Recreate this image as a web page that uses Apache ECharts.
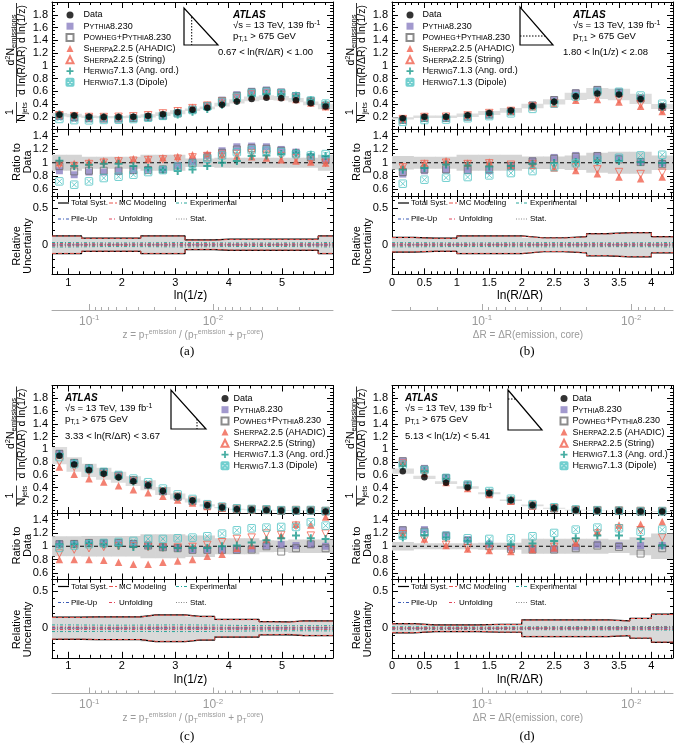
<!DOCTYPE html>
<html><head><meta charset="utf-8">
<script src="https://cdn.jsdelivr.net/npm/echarts@6/dist/echarts.min.js"></script>
<style>html,body{margin:0;padding:0;background:#fff}#c{width:680px;height:749px}</style>
</head><body><div id="c"></div>
<script>
const FONT = '"Liberation Sans", Arial, Helvetica, sans-serif';
const SERIF = '"Liberation Serif", "Times New Roman", serif';

// ---------- binning / ticks ----------
const lnzEdges = [0.693,0.970,1.247,1.523,1.800,2.077,2.354,2.630,2.907,3.184,3.461,3.737,4.014,4.291,4.568,4.844,5.121,5.398,5.675,5.952];
const lnrEdges = [0,0.333,0.667,1.0,1.333,1.667,2.0,2.333,2.667,3.0,3.333,3.667,4.0,4.333];
const lnzMajor = [1,2,3,4,5];
const lnrMajor = [0,0.5,1,1.5,2,2.5,3,3.5,4];
const mainYLabels = [0.2,0.4,0.6,0.8,1,1.2,1.4,1.6,1.8];
const ratioYLabels = [0.6,0.8,1,1.2,1.4];
const uncYLabels = [0,0.5];
const secMajor = [1,2];
const secTickLabels = ['10{s|-1}','10{s|-2}'];

// ---------- panel (a): 0.67 < ln(R/dR) < 1.00, vs ln(1/z) ----------
const aData    = [0.23,0.22,0.20,0.195,0.195,0.20,0.215,0.24,0.27,0.31,0.34,0.39,0.44,0.48,0.50,0.49,0.46,0.41,0.36];
const aPythia  = [0.88,0.82,0.86,0.86,0.87,0.88,0.90,0.90,0.96,1.02,1.11,1.18,1.24,1.25,1.24,1.20,1.16,1.09,1.05];
const aPowheg  = [0.95,0.87,0.88,0.88,0.88,0.89,0.89,0.90,0.94,1.00,1.08,1.15,1.20,1.22,1.21,1.18,1.14,1.08,1.04];
const aSherpaA = [1.00,0.99,1.01,1.03,1.045,1.06,1.06,1.075,1.095,1.12,1.135,1.12,1.10,1.09,1.07,1.045,1.025,1.01,0.995];
const aSherpaS = [0.97,0.95,0.98,1.00,1.02,1.03,1.04,1.05,1.06,1.08,1.10,1.12,1.13,1.14,1.12,1.10,1.07,1.03,1.00];
const aHerwigA = [1.03,0.95,0.97,0.985,0.985,0.95,0.92,0.895,0.875,0.90,0.95,1.00,1.025,1.10,1.11,1.13,1.15,1.12,1.10];
const aHerwigD = [0.72,0.67,0.72,0.77,0.79,0.82,0.86,0.89,0.94,0.985,1.06,1.11,1.16,1.19,1.18,1.16,1.13,1.11,1.13];
const aTotal   = [0.12,0.12,0.09,0.09,0.09,0.09,0.12,0.12,0.12,0.065,0.065,0.075,0.075,0.075,0.075,0.075,0.075,0.075,0.12];
const aMCmod   = [0.117,0.117,0.087,0.087,0.087,0.087,0.117,0.117,0.117,0.062,0.062,0.072,0.072,0.072,0.072,0.072,0.072,0.072,0.117];
const aExp     = [0.030,0.028,0.026,0.025,0.025,0.026,0.027,0.028,0.030,0.028,0.026,0.025,0.024,0.024,0.024,0.025,0.026,0.028,0.030];
const aPU      = [0.008,0.007,0.006,0.006,0.006,0.006,0.007,0.007,0.008,0.008,0.007,0.006,0.006,0.006,0.006,0.006,0.007,0.007,0.008];
const aUnf     = [0.015,0.013,0.012,0.011,0.011,0.012,0.013,0.014,0.015,0.014,0.013,0.012,0.011,0.011,0.011,0.012,0.013,0.014,0.016];
const aStat    = [0.005,0.004,0.004,0.004,0.004,0.004,0.004,0.004,0.004,0.004,0.004,0.004,0.004,0.004,0.004,0.004,0.005,0.005,0.006];

// ---------- panel (b): 1.80 < ln(1/z) < 2.08, vs ln(R/dR) ----------
const bData    = [0.175,0.20,0.20,0.225,0.26,0.30,0.37,0.435,0.52,0.565,0.55,0.48,0.36];
const bPythia  = [0.83,0.88,0.89,0.88,0.88,0.94,1.03,1.08,1.11,1.11,1.07,1.02,0.995];
const bPowheg  = [0.86,0.90,0.90,0.89,0.90,0.95,1.02,1.06,1.09,1.10,1.05,1.01,0.98];
const bSherpaA = [0.95,0.995,1.03,0.995,1.01,0.96,0.96,0.92,0.885,0.835,0.785,0.76,0.785];
const bSherpaS = [0.93,0.98,1.00,0.98,0.99,0.97,0.98,0.95,0.93,0.90,0.86,0.83,0.85];
const bHerwigA = [0.895,0.92,0.975,0.96,0.945,0.95,0.985,0.995,1.01,1.025,1.025,1.01,0.995];
const bHerwigD = [0.685,0.745,0.775,0.785,0.81,0.845,0.875,0.935,0.995,1.045,1.075,1.11,1.12];
const bTotal   = [0.10,0.09,0.09,0.12,0.12,0.12,0.095,0.095,0.11,0.15,0.165,0.165,0.11];
const bMCmod   = [0.097,0.087,0.087,0.117,0.117,0.117,0.092,0.092,0.107,0.147,0.162,0.162,0.107];
const bExp     = [0.028,0.026,0.025,0.025,0.026,0.027,0.028,0.028,0.027,0.026,0.026,0.027,0.030];
const bPU      = [0.007,0.007,0.006,0.006,0.006,0.007,0.007,0.007,0.007,0.007,0.007,0.008,0.008];
const bUnf     = [0.013,0.012,0.012,0.011,0.012,0.012,0.013,0.013,0.014,0.014,0.013,0.013,0.015];
const bStat    = [0.004,0.004,0.004,0.004,0.004,0.004,0.004,0.004,0.004,0.004,0.004,0.005,0.006];

// ---------- panel (c): 3.33 < ln(R/dR) < 3.67, vs ln(1/z) ----------
const cData    = [0.90,0.76,0.67,0.615,0.56,0.50,0.435,0.345,0.26,0.195,0.12,0.085,0.06,0.05,0.045,0.035,0.035,0.035,0.025];
const cPythia  = [1.04,1.04,1.05,1.05,1.05,1.04,1.015,0.99,0.975,0.95,0.95,0.95,0.95,0.96,1.01,1.025,1.01,1.025,1.00];
const cPowheg  = [1.03,1.035,1.05,1.045,1.05,1.035,1.01,0.985,0.97,0.945,0.945,0.945,0.945,0.95,1.00,0.92,0.97,1.03,0.97];
const cSherpaA = [0.80,0.80,0.80,0.79,0.76,0.73,0.73,0.76,0.78,0.80,0.85,0.88,0.97,1.01,1.11,1.16,1.33,1.32,1.44];
const cSherpaS = [0.89,0.95,0.97,0.99,1.00,1.00,0.99,0.98,0.98,0.99,1.02,1.06,1.11,1.13,1.19,1.17,1.31,1.16,1.19];
const cHerwigA = [1.03,1.03,1.045,1.03,1.01,0.99,1.00,0.985,0.975,0.975,0.975,1.00,1.01,1.055,1.09,1.12,1.16,1.12,1.11];
const cHerwigD = [0.975,1.01,1.03,1.05,1.065,1.08,1.11,1.11,1.12,1.13,1.15,1.19,1.24,1.27,1.28,1.29,1.29,1.36,1.31];
const cTotal   = [0.15,0.15,0.155,0.155,0.155,0.155,0.18,0.18,0.18,0.16,0.16,0.12,0.12,0.12,0.09,0.085,0.10,0.10,0.10];
const cMCmod   = [0.147,0.147,0.152,0.152,0.152,0.152,0.177,0.177,0.177,0.157,0.157,0.117,0.117,0.117,0.087,0.082,0.097,0.097,0.097];
const cExp     = [0.045,0.044,0.043,0.042,0.042,0.043,0.044,0.045,0.045,0.044,0.043,0.040,0.038,0.036,0.035,0.034,0.034,0.035,0.036];
const cPU      = [0.010,0.009,0.009,0.008,0.008,0.008,0.009,0.009,0.009,0.009,0.008,0.008,0.008,0.008,0.008,0.008,0.008,0.009,0.009];
const cUnf     = [0.018,0.017,0.016,0.016,0.016,0.017,0.018,0.018,0.018,0.017,0.016,0.015,0.015,0.015,0.014,0.014,0.015,0.015,0.016];
const cStat    = [0.005,0.005,0.005,0.005,0.005,0.005,0.005,0.005,0.006,0.006,0.006,0.007,0.007,0.008,0.008,0.009,0.010,0.010,0.012];

// ---------- panel (d): 5.13 < ln(1/z) < 5.41, vs ln(R/dR) ----------
const dData    = [0.655,0.56,0.475,0.40,0.31,0.20,0.12,0.075,0.045,0.035,0.03,0.025,0.025];
const dPythia  = [1.25,1.25,1.17,1.10,1.03,0.975,0.96,0.96,0.99,1.03,1.01,1.01,1.01];
const dPowheg  = [1.24,1.22,1.15,1.08,1.00,0.96,0.95,0.95,0.97,1.01,0.99,0.89,0.97];
const dSherpaA = [1.19,1.11,1.01,0.96,0.935,0.92,0.95,0.975,1.05,1.22,1.32,1.33,1.37];
const dSherpaS = [1.18,1.10,1.02,0.97,0.95,0.94,0.96,0.99,1.06,1.19,1.27,1.24,1.13];
const dHerwigA = [1.13,1.17,1.13,1.08,1.04,1.03,1.04,1.08,1.12,1.16,1.16,1.11,1.01];
const dHerwigD = [1.16,1.20,1.16,1.12,1.11,1.12,1.15,1.20,1.25,1.28,1.27,1.22,1.25];
const dTotal   = [0.063,0.045,0.045,0.045,0.054,0.054,0.113,0.113,0.113,0.113,0.10,0.135,0.19];
const dMCmod   = [0.060,0.042,0.042,0.042,0.051,0.051,0.110,0.110,0.110,0.110,0.097,0.132,0.187];
const dExp     = [0.020,0.018,0.017,0.017,0.018,0.019,0.020,0.021,0.022,0.022,0.022,0.023,0.025];
const dPU      = [0.006,0.005,0.005,0.005,0.005,0.006,0.006,0.006,0.006,0.007,0.007,0.007,0.008];
const dUnf     = [0.010,0.009,0.009,0.009,0.010,0.010,0.012,0.012,0.012,0.013,0.013,0.014,0.016];
const dStat    = [0.004,0.004,0.004,0.004,0.004,0.005,0.005,0.006,0.007,0.008,0.009,0.010,0.012];

// ---------- styles ----------
const modelNames = ['Pythia8.230','Powheg+Pythia8.230','Sherpa2.2.5 (AHADIC)','Sherpa2.2.5 (String)','Herwig7.1.3 (Ang. ord.)','Herwig7.1.3 (Dipole)'];
const modelStyles = [
  {symbol:'rect', size:7, item:{color:'#8b7fc2'}},
  {symbol:'rect', size:7, item:{color:'rgba(255,255,255,0)', borderColor:'#6e6e6e', borderWidth:1}},
  {symbol:'triangle', size:7.5, item:{color:'#f0624f'}},
  {symbol:'triangle', size:7.5, rotate:180, item:{color:'rgba(255,255,255,0)', borderColor:'#f0624f', borderWidth:1}},
  {symbol:'path://M3,0H5V3H8V5H5V8H3V5H0V3H3Z', size:8, item:{color:'#18998b'}},
  {symbol:'path://M1,0H9Q10,0 10,1V9Q10,10 9,10H1Q0,10 0,9V1Q0,0 1,0Z M1.5,1.5L8.5,8.5 M8.5,1.5L1.5,8.5', size:7.5, item:{color:'rgba(255,255,255,0)', borderColor:'#4fc3c3', borderWidth:1}}
];
const dataStyle = {symbol:'circle', size:6.5, item:{color:'#000'}};
const legendFmt = {
  'Data':'{n|Data}',
  'Pythia8.230':'{n|P}{s|YTHIA}{n|8.230}',
  'Powheg+Pythia8.230':'{n|P}{s|OWHEG}{n|+P}{s|YTHIA}{n|8.230}',
  'Sherpa2.2.5 (AHADIC)':'{n|S}{s|HERPA}{n|2.2.5 (AHADIC)}',
  'Sherpa2.2.5 (String)':'{n|S}{s|HERPA}{n|2.2.5 (String)}',
  'Herwig7.1.3 (Ang. ord.)':'{n|H}{s|ERWIG}{n|7.1.3 (Ang. ord.)}',
  'Herwig7.1.3 (Dipole)':'{n|H}{s|ERWIG}{n|7.1.3 (Dipole)}'
};
const compStyles = [
  {name:'Total Syst.', ls:{color:'#000', width:1.2, type:'solid'}},
  {name:'MC Modeling', ls:{color:'#e8554d', width:1, type:[4,2]}},
  {name:'Experimental', ls:{color:'#2aa79b', width:1, type:[3,2,1,2]}},
  {name:'Pile-Up', ls:{color:'#3b5bb5', width:1, type:[3,2,1,2]}},
  {name:'Unfolding', ls:{color:'#e0455a', width:1, type:[3,2,1,2]}},
  {name:'Stat.', ls:{color:'#888', width:1, type:[1,1.5]}}
];

const panels = [
  {id:'(a)', dx:0, dy:0, edges:lnzEdges, xMajor:lnzMajor, xMinorStep:0.2, xMinorStart:0.8, sec:[0.699,2.97], secKind:'z', xTitle:'ln(1/z)', xTitleX:190.5,
   data:aData, total:aTotal, comps:[aTotal,aMCmod,aExp,aPU,aUnf,aStat], ratios:[aPythia,aPowheg,aSherpaA,aSherpaS,aHerwigA,aHerwigD],
   leg:{left:65.5, pad:5}, atlas:{x:233, y:15, sx:218, sy:52}, slice:'0.67 < ln(R/ΔR) < 1.00',
   tri:[[184,8],[184,45],[218,45]], dot:[[191.7,17],[191.7,45]]},
  {id:'(b)', dx:340, dy:0, edges:lnrEdges, xMajor:lnrMajor, xMinorStep:0.1, xMinorStart:0, sec:[0.398,2.28], secKind:'dr', xTitle:'ln(R/ΔR)', xTitleX:520,
   data:bData, total:bTotal, comps:[bTotal,bMCmod,bExp,bPU,bUnf,bStat], ratios:[bPythia,bPowheg,bSherpaA,bSherpaS,bHerwigA,bHerwigD],
   leg:{left:405.5, pad:4}, atlas:{x:573, y:15, sx:563, sy:52}, slice:'1.80 < ln(1/z) < 2.08',
   tri:[[520,7],[520,45],[553,45]], dot:[[520,36],[545,36]]},
  {id:'(c)', dx:0, dy:383.5, edges:lnzEdges, xMajor:lnzMajor, xMinorStep:0.2, xMinorStart:0.8, sec:[0.699,2.97], secKind:'z', xTitle:'ln(1/z)', xTitleX:190.5,
   data:cData, total:cTotal, comps:[cTotal,cMCmod,cExp,cPU,cUnf,cStat], ratios:[cPythia,cPowheg,cSherpaA,cSherpaS,cHerwigA,cHerwigD],
   leg:{left:220.5, pad:0}, atlas:{x:65, y:398.3, sx:65, sy:436}, slice:'3.33 < ln(R/ΔR) < 3.67',
   tri:[[171,390],[171,429],[206,429]], dot:[[197,419],[197,429]]},
  {id:'(d)', dx:340, dy:383.5, edges:lnrEdges, xMajor:lnrMajor, xMinorStep:0.1, xMinorStart:0, sec:[0.398,2.28], secKind:'dr', xTitle:'ln(R/ΔR)', xTitleX:520,
   data:dData, total:dTotal, comps:[dTotal,dMCmod,dExp,dPU,dUnf,dStat], ratios:[dPythia,dPowheg,dSherpaA,dSherpaS,dHerwigA,dHerwigD],
   leg:{left:559.5, pad:0}, atlas:{x:405, y:398.3, sx:405, sy:436}, slice:'5.13 < ln(1/z) < 5.41',
   tri:[[508,390],[508,430],[542,430]], dot:[[508,399],[516,399]]}
];

// ---------- builders ----------
const grids = [], xAxes = [], yAxes = [], series = [], legends = [], graphics = [];
function ticksRange(a, b, step) { const r = []; const n = Math.round((b - a) / step); for (let i = 0; i <= n; i++) r.push(+(a + i * step).toFixed(5)); return r; }
const mainYMinor = ticksRange(0, 2, 0.05);
const ratioYMinor = ticksRange(0.5, 1.5, 0.05);
const uncYMinor = ticksRange(-0.4, 0.6, 0.1);
const secMinor = [];
[1,2,3].forEach(n => { for (let k = 2; k <= 9; k++) secMinor.push(+(n - Math.log10(k)).toFixed(4)); });

function addFrame(g, xr, yr, xMaj, xMin, yMaj, yMin, xLab, yLab) {
  const gi = grids.length; grids.push(g);
  const mk = (dim, pos, r, vals, len, line, lab) => {
    const ax = {type:'value', gridIndex:gi, position:pos, min:r[0], max:r[1], offset:0,
      axisLine:{show:line, onZero:false, lineStyle:{color:'#000', width:1}},
      axisTick:{show:true, inside:true, length:len, customValues:vals, lineStyle:{color:'#000', width:1}},
      axisLabel:{show:false}, splitLine:{show:false}, minorTick:{show:false}, axisPointer:{show:false}};
    if (lab) ax.axisLabel = Object.assign({show:true, color:'#000', fontFamily:FONT, fontSize:11}, lab);
    const arr = dim === 'x' ? xAxes : yAxes;
    arr.push(ax); return arr.length - 1;
  };
  const xi = mk('x','bottom',xr,xMaj,6,true,xLab);
  mk('x','bottom',xr,xMin,3,false);
  mk('x','top',xr,xMaj,6,true);
  mk('x','top',xr,xMin,3,false);
  const yi = mk('y','left',yr,yMaj,6,true,yLab);
  mk('y','left',yr,yMin,3,false);
  mk('y','right',yr,yMaj,6,true);
  mk('y','right',yr,yMin,3,false);
  return {xi, yi};
}
function band(ax, edges, lo, hi, color) {
  const d = lo.map((l, i) => [edges[i], edges[i + 1], l, hi[i]]);
  return {type:'custom', xAxisIndex:ax.xi, yAxisIndex:ax.yi, data:d, silent:true, z:1, clip:true,
    encode:{x:[0,1], y:[2,3]},
    renderItem:(params, api) => {
      const p0 = api.coord([api.value(0), api.value(3)]);
      const p1 = api.coord([api.value(1), api.value(2)]);
      return {type:'rect', shape:{x:p0[0] - 0.3, y:p0[1], width:p1[0] - p0[0] + 0.6, height:p1[1] - p0[1]}, style:{fill:color}};
    }};
}
function scat(ax, xs, ys, st, name, z) {
  return {type:'scatter', name, xAxisIndex:ax.xi, yAxisIndex:ax.yi, data:xs.map((x, i) => [x, ys[i]]),
    symbol:st.symbol, symbolSize:st.size, symbolRotate:st.rotate || 0, itemStyle:st.item, z, silent:true, clip:true,
    emphasis:{disabled:true}};
}
function step(ax, edges, vals, sgn, ls, z) {
  const d = vals.map((v, i) => [edges[i], sgn * v]);
  d.push([edges[vals.length], sgn * vals[vals.length - 1]]);
  return {type:'line', xAxisIndex:ax.xi, yAxisIndex:ax.yi, data:d, step:'end', symbol:'none', showSymbol:false,
    lineStyle:ls, z, silent:true, clip:true, emphasis:{disabled:true}};
}
const RICH = {
  n:{fontSize:9.5, fontFamily:FONT, fill:'#000'},
  u:{fontSize:7, fontFamily:FONT, fill:'#000', padding:[0,0,5,0]},
  d:{fontSize:7, fontFamily:FONT, fill:'#000', padding:[5,0,0,0]},
  t:{fontSize:10.5, fontFamily:FONT, fill:'#000'},
  tu:{fontSize:7.5, fontFamily:FONT, fill:'#000', padding:[0,0,6,0]},
  td:{fontSize:7.5, fontFamily:FONT, fill:'#000', padding:[5,0,0,0]},
  g:{fontSize:10, fontFamily:FONT, fill:'#9a9a9a'},
  gu:{fontSize:7, fontFamily:FONT, fill:'#9a9a9a', padding:[0,0,6,0]},
  gd:{fontSize:7, fontFamily:FONT, fill:'#9a9a9a', padding:[5,0,0,0]}
};
function txt(x, y, text, o) {
  o = o || {};
  return {type:'text', x, y, rotation:o.rot || 0, silent:true, z:100,
    style:Object.assign({text, fill:o.color || '#000', font:o.font || ('10px ' + FONT), align:o.align || 'left', verticalAlign:'middle', rich:RICH}, o.style || {})};
}
function gline(x1, y1, x2, y2, stroke, dash, w) {
  return {type:'line', silent:true, z:100, shape:{x1, y1, x2, y2}, style:{stroke, lineWidth:w || 1, lineDash:dash || null}};
}

panels.forEach(P => {
  const L = 52 + P.dx, W = 281, dy = P.dy, dx = P.dx;
  const n = P.data.length;
  const centers = P.data.map((_, i) => (P.edges[i] + P.edges[i + 1]) / 2);
  const xr = [P.edges[0], P.edges[n]];
  const xMin = ticksRange(P.xMinorStart, xr[1], P.xMinorStep).filter(v => v >= xr[0] && v <= xr[1]);
  const yfmt = v => String(Math.round(v * 10) / 10);

  // main panel
  const m = addFrame({left:L, top:2 + dy, width:W, height:127.5}, xr, [0, 2], P.xMajor, xMin, mainYLabels, mainYMinor, null,
    {customValues:mainYLabels, margin:4, formatter:yfmt});
  series.push(band(m, P.edges, P.data.map((d, i) => d * (1 - P.total[i])), P.data.map((d, i) => d * (1 + P.total[i])), '#dddddd'));
  P.ratios.forEach((r, k) => series.push(scat(m, centers, P.data.map((d, i) => d * r[i]), modelStyles[k], modelNames[k], 3)));
  series.push(scat(m, centers, P.data, dataStyle, 'Data', 5));

  // ratio panel
  const r = addFrame({left:L, top:129.5 + dy, width:W, height:66.5}, xr, [0.5, 1.5], P.xMajor, xMin, ratioYLabels, ratioYMinor, null,
    {customValues:ratioYLabels, margin:4, formatter:yfmt});
  series.push(band(r, P.edges, P.total.map(u => 1 - u), P.total.map(u => 1 + u), '#d4d4d4'));
  series.push({type:'line', xAxisIndex:r.xi, yAxisIndex:r.yi, data:[[xr[0], 1], [xr[1], 1]], symbol:'none', showSymbol:false,
    lineStyle:{color:'#000', width:1, type:[4,3]}, z:2, silent:true});
  P.ratios.forEach((rv, k) => series.push(scat(r, centers, rv, modelStyles[k], modelNames[k], 3)));

  // uncertainty panel
  const u = addFrame({left:L, top:196 + dy, width:W, height:78.3}, xr, [-0.4, 0.66], P.xMajor, xMin, uncYLabels, uncYMinor,
    {customValues:P.xMajor, margin:3, formatter:v => String(v)},
    {customValues:uncYLabels, margin:4, formatter:v => String(v)});
  series.push(band(u, P.edges, P.total.map(v => -v), P.total, '#d9d9d9'));
  P.comps.forEach((c, k) => {
    series.push(step(u, P.edges, c, 1, compStyles[k].ls, 3 + k * 0.1));
    series.push(step(u, P.edges, c, -1, compStyles[k].ls, 3 + k * 0.1));
  });

  // secondary log axis (z or dR)
  const sgi = grids.length; grids.push({left:L, top:309 + dy, width:W, height:1});
  xAxes.push({type:'value', gridIndex:sgi, position:'bottom', min:P.sec[0], max:P.sec[1],
    axisLine:{show:true, onZero:false, lineStyle:{color:'#aaaaaa'}},
    axisTick:{show:true, inside:true, length:6, customValues:secMajor, lineStyle:{color:'#aaaaaa'}},
    axisLabel:{show:true, customValues:secMajor, formatter:v => secTickLabels[secMajor.indexOf(+v)], color:'#9a9a9a', fontSize:12, fontFamily:FONT, margin:4,
      rich:{s:{fontSize:8, color:'#9a9a9a', fontFamily:FONT, padding:[0,0,7,0]}}},
    splitLine:{show:false}, minorTick:{show:false}});
  xAxes.push({type:'value', gridIndex:sgi, position:'bottom', min:P.sec[0], max:P.sec[1],
    axisLine:{show:false, onZero:false}, axisTick:{show:true, inside:true, length:3, customValues:secMinor.filter(v => v > P.sec[0] && v < P.sec[1]), lineStyle:{color:'#aaaaaa'}},
    axisLabel:{show:false}, splitLine:{show:false}});
  yAxes.push({type:'value', gridIndex:sgi, show:false, min:0, max:1});

  // legend (models)
  legends.push({orient:'vertical', left:P.leg.left, top:10.5 + dy, itemWidth:7, itemHeight:7, itemGap:2.2, padding:0,
    selectedMode:false, data:['Data'].concat(modelNames), formatter:name => legendFmt[name],
    textStyle:{fontFamily:FONT, fontSize:9, color:'#000', padding:[0,0,0,P.leg.pad],
      rich:{n:{fontSize:9, fontFamily:FONT, color:'#000'}, s:{fontSize:7, fontFamily:FONT, color:'#000', padding:[2,0,0,0]}}}});

  // ATLAS label block
  graphics.push(txt(P.atlas.x, P.atlas.y, 'ATLAS', {font:'italic bold 10px ' + FONT}));
  graphics.push(txt(P.atlas.x, P.atlas.y + 10.5, '{n|√s = 13 TeV, 139 fb}{u|-1}'));
  graphics.push(txt(P.atlas.x, P.atlas.y + 21.5, '{n|p}{d|T,1}{n| > 675 GeV}'));
  graphics.push(txt(P.atlas.sx, P.atlas.sy, P.slice, {font:'9.5px ' + FONT}));

  // Lund-plane triangle
  graphics.push({type:'polygon', silent:true, z:100, shape:{points:P.tri}, style:{fill:'none', stroke:'#000', lineWidth:1.2}});
  graphics.push(gline(P.dot[0][0], P.dot[0][1], P.dot[1][0], P.dot[1][1], '#000', [1.5,1.5], 1));

  // y-axis titles
  const tx = dx;
  graphics.push(txt(tx + 11, 40 + dy, '{t|d}{tu|2}{t|N}{td|emissions}', {rot:Math.PI / 2, align:'center'}));
  graphics.push(gline(tx + 16.5, 3 + dy, tx + 16.5, 97 + dy, '#000', null, 0.8));
  graphics.push(txt(tx + 22.5, 50 + dy, '{t|d ln(R/ΔR) d ln(1/z)}', {rot:Math.PI / 2, align:'center'}));
  graphics.push(txt(tx + 10.5, 112 + dy, '{t|1}', {rot:Math.PI / 2, align:'center'}));
  graphics.push(gline(tx + 16.5, 102 + dy, tx + 16.5, 123 + dy, '#000', null, 0.8));
  graphics.push(txt(tx + 22.5, 112 + dy, '{t|N}{td|jets}', {rot:Math.PI / 2, align:'center'}));
  graphics.push(txt(tx + 22.5, 162 + dy, 'Ratio to\nData', {rot:Math.PI / 2, align:'center', font:'11px ' + FONT, style:{lineHeight:11.5}}));
  graphics.push(txt(tx + 22.5, 246 + dy, 'Relative\nUncertainty', {rot:Math.PI / 2, align:'center', font:'11px ' + FONT, style:{lineHeight:11.5}}));

  // uncertainty legend
  const lx = [58, 109, 176], lw = [11, 8, 11], ltx = [71, 119, 190], ly = [203, 219];
  compStyles.forEach((c, k) => {
    const row = Math.floor(k / 3), col = k % 3;
    const y = ly[row] + dy;
    const dash = Array.isArray(c.ls.type) ? c.ls.type : null;
    graphics.push(gline(lx[col] + dx, y, lx[col] + dx + lw[col], y, c.ls.color, dash, c.ls.width));
    graphics.push(txt(ltx[col] + dx, y, c.name, {font:'8px ' + FONT}));
  });

  // x-axis titles and panel letters
  graphics.push(txt(P.xTitleX, 296 + dy, P.xTitle, {align:'center', font:'12px ' + FONT}));
  if (P.secKind === 'z') {
    graphics.push(txt(193 + dx, 335 + dy, '{g|z = p}{gd|T}{gu|emission}{g| / (p}{gd|T}{gu|emission}{g| + p}{gd|T}{gu|core}{g|)}', {align:'center'}));
  } else {
    graphics.push(txt(188 + dx, 335 + dy, '{g|ΔR = ΔR(emission, core)}', {align:'center'}));
  }
  graphics.push(txt(187 + dx, (dy ? 737 : 352), P.id, {align:'center', font:'13px ' + SERIF}));
});

const chart = echarts.init(document.getElementById('c'), null, {renderer:'canvas'});
chart.setOption({animation:false, tooltip:{show:false}, grid:grids, xAxis:xAxes, yAxis:yAxes, series, legend:legends, graphic:{elements:graphics}});
</script></body></html>
